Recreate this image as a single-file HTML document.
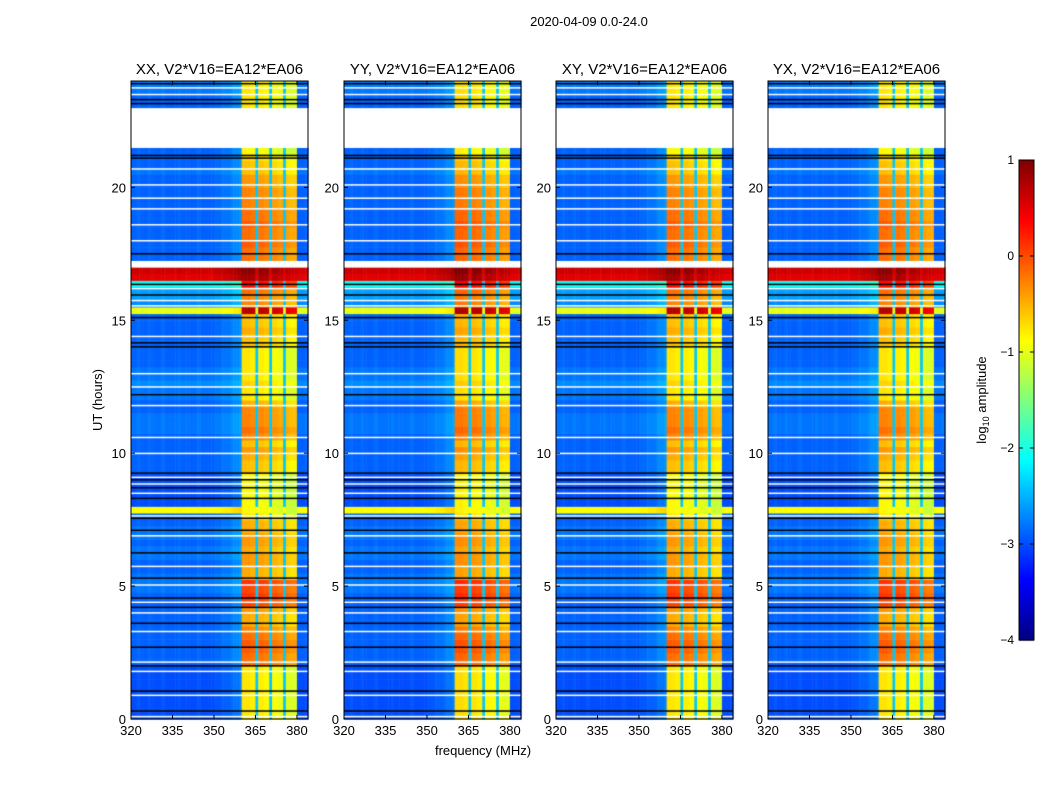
<!DOCTYPE html>
<html><head><meta charset="utf-8">
<style>
html,body{margin:0;padding:0;background:#fff;}
#wrap{position:relative;width:1050px;height:800px;overflow:hidden;font-family:"Liberation Sans",sans-serif;}
canvas,svg{position:absolute;left:0;top:0;}
</style></head>
<body>
<div id="wrap">
<canvas id="cv" width="1050" height="800"></canvas>
<svg id="sv" width="1050" height="800"></svg>
</div>
<script>
// ---- data ----
const panelTitles = ["XX, V2*V16=EA12*EA06","YY, V2*V16=EA12*EA06","XY, V2*V16=EA12*EA06","YX, V2*V16=EA12*EA06"];
const xTicks = [320,335,350,365,380];
const yTicks = [0,5,10,15,20];
const cbTicks = [1,0,-1,-2,-3,-4];
// 64 frequency channels (1 MHz) 320..384 : 0=background, 1=RFI band, 2=gap
const colType = [0,0,0,0,0,0,0,0,0,0,0,0,0,0,0,0,0,0,0,0,0,0,0,0,0,0,0,0,0,0,0,0,0,0,0,0,0,0,0,0,
                 1,1,1,1,1,2,1,1,1,1,2,1,1,1,1,2,1,1,1,1,0,0,0,0];
const colOffset = [0,0,0.05,0,0,0,0.05,0,0,0,0,0.05,0,0,0,0,0,0.05,0,0,0,0,0,0,0.05,0,0,0,0,0,0.05,0.05,0.05,0.1,0.1,0.1,0.15,0.2,0.2,0.25,
                 0.05,0.05,0.05,0,0,0,0,0,-0.05,-0.05,0,-0.1,-0.1,-0.15,-0.15,0,-0.2,-0.25,-0.25,-0.25,0,0,0,0];
// 96 quarter-hour rows, 0h..24h : background level (log10), NaN = no data
const rowBase = [-3.0,-3.0,-3.0,-3.0,-3.0,-3.0,-3.0,-3.0,-2.9,-2.9,-2.9,-2.9,-2.9,-2.9,-2.9,-2.9,-2.9,-2.9,-2.9,-2.8,-2.8,-2.8,-2.9,-2.9,
  -2.8,-2.8,-2.9,-2.8,-2.8,-2.9,-2.9,-0.9,-3.0,-3.0,-3.0,-3.0,-3.0,-2.9,-2.9,-2.9,-2.9,-2.9,-2.9,-2.8,-2.8,-2.8,-2.9,-2.9,
  -2.8,-2.8,-2.7,-2.8,-2.8,-2.9,-2.9,-2.9,-2.9,-2.9,-2.9,-2.9,-2.9,-1.0,-2.7,-2.6,-2.6,-2.1,0.5,0.6,NaN,-2.9,-2.9,-2.9,
  -2.9,-2.9,-2.9,-2.9,-2.9,-2.9,-2.9,-2.9,-2.9,-2.9,-2.8,-2.9,-2.9,-2.9,NaN,NaN,NaN,NaN,NaN,NaN,-2.9,-2.9,-2.8,-2.8];
// RFI band level per row
const rowBand = [-0.8,-0.8,-0.8,-0.8,-0.8,-0.8,-0.8,-0.8,-0.2,-0.2,-0.1,-0.1,-0.2,-0.3,-0.5,-0.5,-0.4,0.0,0.1,0.0,0.1,-0.5,-0.5,-0.4,
  -0.4,-0.5,-0.4,-0.4,-0.5,-0.5,-0.8,-0.9,-0.9,-0.9,-0.9,-0.9,-0.9,-0.6,-0.6,-0.5,-0.4,-0.6,-0.3,-0.2,-0.3,-0.3,-0.3,-0.5,
  -0.8,-0.8,-0.7,-0.8,-0.8,-0.8,-0.8,-0.8,-0.6,-0.6,-0.5,-0.6,-0.6,0.7,-0.3,-0.3,-0.2,0.3,0.8,0.9,NaN,-0.2,-0.2,-0.1,
  -0.2,-0.2,-0.1,-0.2,-0.2,-0.3,-0.3,-0.3,-0.4,-0.4,-0.6,-0.6,-0.7,-0.9,NaN,NaN,NaN,NaN,NaN,NaN,-0.8,-0.8,-0.8,-0.8];
// flagged integrations (hours)
const blackLines = [0.3,1.05,2.0,2.7,3.6,4.2,4.55,5.3,6.25,7.1,7.55,8.3,8.7,9.0,9.25,12.2,14.0,14.15,15.1,15.95,16.35,17.5,21.1,21.2,23.15,23.3,23.9];
const whiteLines = [0.1,0.9,1.8,2.15,3.3,4.0,4.4,5.05,5.75,6.9,7.65,8.5,8.85,9.1,10.0,10.6,11.8,12.5,13.0,14.4,15.55,15.75,16.2,18.0,18.6,19.2,19.6,20.1,20.7,23.5,23.75];

// ---- layout ----
const panelX = [131,344,556,768];
const PW = 177, PT = 81, PB = 719;
const F0 = 320, F1 = 384, T0 = 0, T1 = 24;
function xScale(p,f){return panelX[p] + (f-F0)/(F1-F0)*PW;}
function yScale(h){return PB - (h-T0)/(T1-T0)*(PB-PT);}
const CBX=1019, CBW=15, CBT=160, CBB=640, VMIN=-4, VMAX=1;
function cbScale(v){return CBB - (v-VMIN)/(VMAX-VMIN)*(CBB-CBT);}
function jet(v){
  let t=(v-VMIN)/(VMAX-VMIN); t=Math.max(0,Math.min(1,t));
  const c=x=>Math.round(255*Math.max(0,Math.min(1,x)));
  return `rgb(${c(1.5-Math.abs(4*t-3))},${c(1.5-Math.abs(4*t-2))},${c(1.5-Math.abs(4*t-1))})`;
}
const ctx=document.getElementById('cv').getContext('2d');
ctx.fillStyle='#fff';ctx.fillRect(0,0,1050,800);
const panelGain=[0,0.05,0,0];
for(let p=0;p<4;p++){
  const nR=rowBase.length, dh=(T1-T0)/nR, nC=colType.length, df=(F1-F0)/nC;
  for(let r=0;r<nR;r++){
    const y0=yScale(T0+(r+1)*dh), y1=yScale(T0+r*dh);
    for(let c=0;c<nC;c++){
      let v;
      if(isNaN(rowBase[r])||isNaN(rowBand[r])){v=NaN;}
      else if(colType[c]===1){v=rowBand[r]+colOffset[c]+panelGain[p];}
      else if(colType[c]===2){v=rowBase[r]>-1.5?rowBase[r]:-2.4;}
      else {v=rowBase[r]+colOffset[c];}
      const x0=xScale(p,F0+c*df), x1=xScale(p,F0+(c+1)*df);
      ctx.fillStyle=isNaN(v)?'#fff':jet(v);
      ctx.fillRect(x0,y0,x1-x0+0.5,y1-y0+0.5);
    }
  }
  ctx.fillStyle='#000';
  blackLines.forEach(h=>ctx.fillRect(panelX[p],yScale(h)-0.75,PW,1.5));
  ctx.fillStyle='#fff';
  whiteLines.forEach(h=>ctx.fillRect(panelX[p],yScale(h)-0.5,PW,1.5));
}
// colorbar
const nS=240;
for(let i=0;i<nS;i++){
  const v=VMIN+(i+0.5)/nS*(VMAX-VMIN);
  ctx.fillStyle=jet(v);
  ctx.fillRect(CBX,cbScale(VMIN+(i+1)/nS*(VMAX-VMIN)),CBW,(CBB-CBT)/nS+0.6);
}

// ---- SVG overlay ----
const NS='http://www.w3.org/2000/svg', sv=document.getElementById('sv');
function mk(tag,attrs,parent){const e=document.createElementNS(NS,tag);for(const k in attrs)e.setAttribute(k,attrs[k]);(parent||sv).appendChild(e);return e;}
function txt(s,attrs){const e=mk('text',Object.assign({'font-family':'Liberation Sans, sans-serif','font-size':13,fill:'#000'},attrs));e.textContent=s;return e;}
const names=['xx','yy','xy','yx'];
let t=txt('2020-04-09 0.0-24.0',{x:589,y:26,'text-anchor':'middle'});


for(let p=0;p<4;p++){
  const g=mk('g',{});
  
  
  const fr=mk('rect',{x:panelX[p],y:PT,width:PW,height:PB-PT,fill:'none',stroke:'#000','stroke-width':1},g);
  
  
  const tt=txt(panelTitles[p],{x:panelX[p]+PW/2,y:74,'text-anchor':'middle','font-size':15});
  
  
  xTicks.forEach(f=>{
    const x=xScale(p,f);
    mk('line',{x1:x,x2:x,y1:PB,y2:PB-4,stroke:'#000'},g);
    mk('line',{x1:x,x2:x,y1:PT,y2:PT+4,stroke:'#000'},g);
    const l=txt(String(f),{x:x,y:PB+16,'text-anchor':'middle'});
    
    
  });
  yTicks.forEach(h=>{
    const y=yScale(h);
    mk('line',{x1:panelX[p],x2:panelX[p]+4,y1:y,y2:y,stroke:'#000'},g);
    mk('line',{x1:panelX[p]+PW,x2:panelX[p]+PW-4,y1:y,y2:y,stroke:'#000'},g);
    const l=txt(String(h),{x:panelX[p]-5,y:y+5,'text-anchor':'end'});
    
    
  });
}
t=txt('frequency (MHz)',{x:483,y:755,'text-anchor':'middle'});


t=txt('UT (hours)',{x:102,y:400,'text-anchor':'middle',transform:'rotate(-90 102 400)'});


const cbf=mk('rect',{x:CBX,y:CBT,width:CBW,height:CBB-CBT,fill:'none',stroke:'#000'});


cbTicks.forEach(v=>{
  const y=cbScale(v);
  mk('line',{x1:CBX,x2:CBX+4,y1:y,y2:y,stroke:'#000'});
  mk('line',{x1:CBX+CBW,x2:CBX+CBW-4,y1:y,y2:y,stroke:'#000'});
  const l=txt(v<0?'\u2212'+Math.abs(v):String(v),{x:CBX-5,y:y+4,'text-anchor':'end','font-size':12});
  
  
});
const cl=mk('text',{x:986,y:400,'text-anchor':'middle','font-family':'Liberation Sans, sans-serif','font-size':13,transform:'rotate(-90 986 400)'});


cl.appendChild(document.createTextNode('log'));
const sub=mk('tspan',{'font-size':9,dy:3},cl);sub.textContent='10';
const rest=mk('tspan',{dy:-3},cl);rest.textContent=' amplitude';
</script>
</body></html>
